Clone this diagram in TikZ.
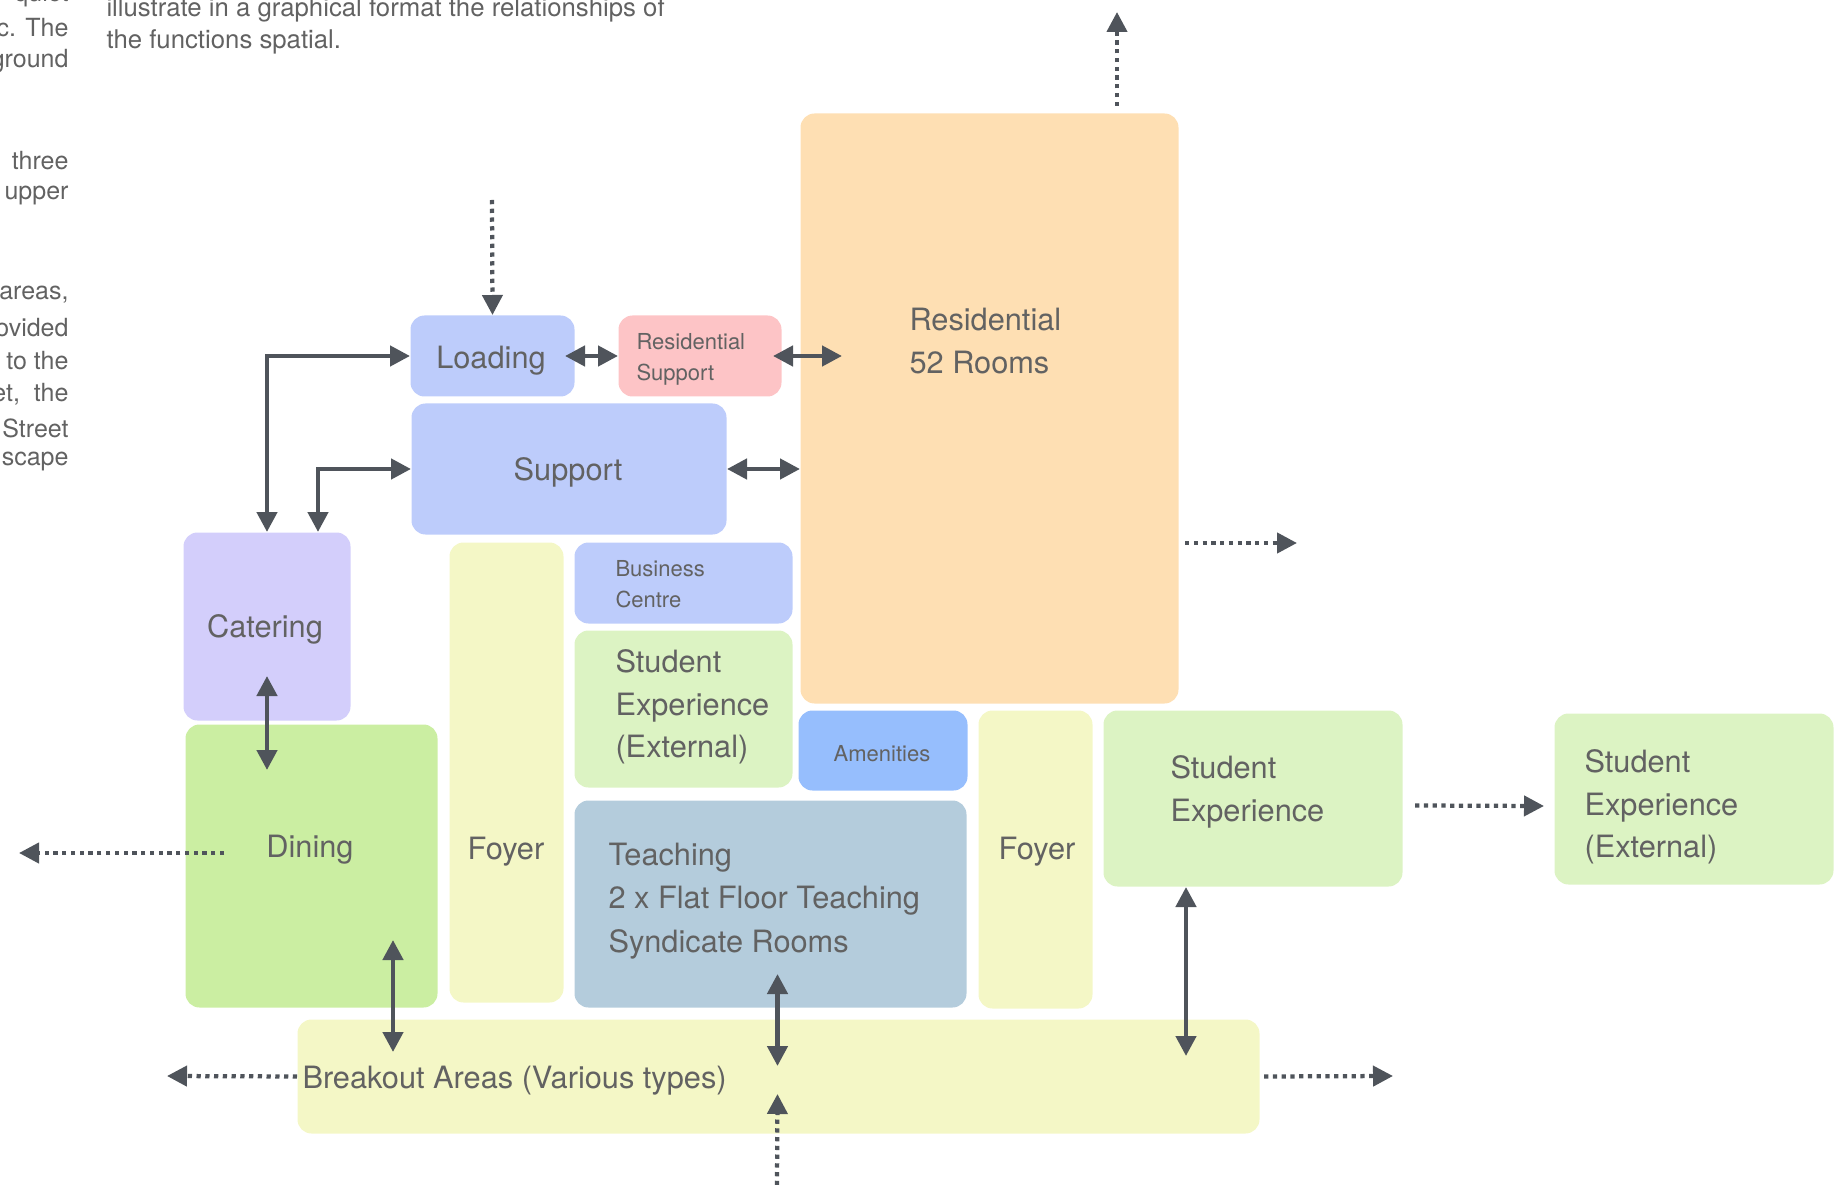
\documentclass[tikz,border=0pt]{standalone}
\usepackage{fontspec}
\setmainfont{TeX Gyre Heros}
\usetikzlibrary{arrows.meta,calc}
\definecolor{cblue}{HTML}{BDCCFB}
\definecolor{cpink}{HTML}{FDC4C6}
\definecolor{cpeach}{HTML}{FEDFB3}
\definecolor{clav}{HTML}{D3CEFB}
\definecolor{cdining}{HTML}{CBEEA2}
\definecolor{cyellow}{HTML}{F4F7C6}
\definecolor{cstud}{HTML}{DCF3C3}
\definecolor{camen}{HTML}{96BEFD}
\definecolor{cteach}{HTML}{B4CCDC}
\definecolor{carrow}{HTML}{4F545B}
\definecolor{ctext}{HTML}{626262}
\newcommand\roomrect[6]{\node[roombox, fill=#2, anchor=north west, minimum width={(#5-#3)*0.4pt}, minimum height={(#6-#4)*0.4pt}] (#1) at (#3,#4) {};}
\begin{document}
\begin{tikzpicture}[x=0.4pt,y=-0.4pt,
  roombox/.style={rounded corners=5.6pt, inner sep=0pt, draw=none},
  big/.style={text=ctext, inner sep=0pt, font=\fontsize{12.3pt}{17pt}\selectfont},
  small/.style={text=ctext, inner sep=0pt, font=\fontsize{8.8pt}{12.4pt}\selectfont},
  para/.style={text=ctext, inner sep=0pt, font=\fontsize{10.3pt}{13pt}\selectfont},
  lcol/.style={text=ctext, inner sep=0pt, font=\fontsize{10pt}{13pt}\selectfont},
  darr/.style={draw=carrow, line width=1.8pt, {Triangle[length=8pt,width=8pt]}-{Triangle[length=8pt,width=8pt]}},
  dotarr/.style={draw=carrow, line width=1.7pt, dash pattern=on 1.7pt off 1.8pt, -{Triangle[length=8pt,width=8pt]}}]
\useasboundingbox (0,0) rectangle (1847,1185);

% paragraph text fragments
\node[para, anchor=west] (p1) at (106,10) {illustrate in a graphical format the relationships of};
\node[para, anchor=west] (p2) at (106,42) {the functions spatial.};
\node[lcol, anchor=east] (l0) at (69,-5) {quiet};
\node[lcol, anchor=east] (l1) at (69,28) {ic. The};
\node[lcol, anchor=east] (l2) at (69,61) {ground};
\node[lcol, anchor=east] (l3) at (69,161) {three};
\node[lcol, anchor=east] (l4) at (69,195) {upper};
\node[lcol, anchor=east] (l5) at (69,295) {areas,};
\node[lcol, anchor=east] (l6) at (69,328) {ovided};
\node[lcol, anchor=east] (l7) at (69,361) {to the};
\node[lcol, anchor=east] (l8) at (69,394) {et,\ \ the};
\node[lcol, anchor=east] (l9) at (69,428) {Street};
\node[lcol, anchor=east] (l10) at (69,461) {scape};

% rooms
\roomrect{Loading}{cblue}{410}{315}{574}{396}
\roomrect{ResSup}{cpink}{618}{315}{781}{396}
\roomrect{Support}{cblue}{411}{403}{726}{534}
\roomrect{Res}{cpeach}{800}{113}{1178}{703}
\roomrect{Catering}{clav}{183}{532}{350}{720}
\roomrect{Dining}{cdining}{185}{724}{437}{1007}
\roomrect{FoyerL}{cyellow}{449}{542}{563}{1002}
\roomrect{Business}{cblue}{574}{542}{792}{623}
\roomrect{SEin}{cstud}{574}{630}{792}{787}
\roomrect{Amen}{camen}{798}{710}{967}{790}
\roomrect{Teach}{cteach}{574}{800}{966}{1007}
\roomrect{FoyerR}{cyellow}{978}{710}{1092}{1008}
\roomrect{SE}{cstud}{1103}{710}{1402}{886}
\roomrect{SEx}{cstud}{1554}{713}{1833}{884}
\roomrect{Break}{cyellow}{297}{1019}{1259}{1133}

% labels
\node[big] (tLoading) at (491,361) {Loading};
\node[small, anchor=west, align=left] (tResSup) at (636,359) {Residential\\Support};
\node[big] (tSupport) at (568,472) {Support};
\node[big, anchor=west, align=left] (tRes) at (909,341) {Residential\\52 Rooms};
\node[big] (tCatering) at (265,629) {Catering};
\node[big] (tDining) at (310,850) {Dining};
\node[big] (tFoyerL) at (506,852) {Foyer};
\node[small, anchor=west, align=left] (tBusiness) at (615,584) {Business\\Centre};
\node[big, anchor=west, align=left, font=\fontsize{12.3pt}{17pt}\selectfont] (tSEin) at (615,707) {Student\\Experience\\(External)};
\node[small] (tAmen) at (882,754) {Amenities};
\node[big, anchor=west, align=left, font=\fontsize{12.3pt}{17.4pt}\selectfont] (tTeach) at (608,901) {Teaching\\2 x Flat Floor Teaching\\Syndicate Rooms};
\node[big] (tFoyerR) at (1037,852) {Foyer};
\node[big, anchor=west, align=left] (tSE) at (1170,792) {Student\\Experience};
\node[big, anchor=west, align=left, font=\fontsize{12.3pt}{16.9pt}\selectfont] (tSEx) at (1584,807) {Student\\Experience\\(External)};
\node[big, anchor=west] (tBreak) at (302,1081) {Breakout Areas (Various types)};

% free ends
\coordinate (topLoad) at (492,200);
\coordinate (resUp) at (1117,12);
\coordinate (resUpS) at (1117,106);
\coordinate (resRS) at (1185,543);
\coordinate (resRE) at (1297,543);
\coordinate (dinS) at (224,853);
\coordinate (dinE) at (19,853);
\coordinate (brL) at (167,1076);
\coordinate (brR) at (1393,1076);
\coordinate (botS) at (777,1185);

% connectors
\draw[dotarr] (topLoad) -- (Loading.north);
\draw[darr] (Catering.north) |- (Loading.west);
\draw[darr] ($(Catering.north)+(51,0)$) |- (Support.west);
\draw[darr] ($(Loading.east)+(-10,0)$) -- (ResSup.west);
\draw[darr] ($(ResSup.east)+(-9,0)$) -- ($(ResSup.east -| Res.west)+(42,0)$);
\draw[darr] (Support.east) -- (Support.east -| Res.west);
\draw[dotarr] (resUpS) -- (resUp);
\draw[dotarr] (resRS) -- (resRE);
\draw[darr] ($(Catering.south)+(0,-45)$) -- ($(Catering.south)+(0,49)$);
\draw[dotarr] (dinS) -- (dinE);
\draw[darr] ($(Dining.south west)+(208,-68)$) -- ($(Dining.south west)+(208,44)$);
\draw[dotarr] (Break.west) -- (brL);
\draw[darr] ($(Teach.south)+(7,-34)$) -- ($(Teach.south)+(7,58)$);
\draw[dotarr] (botS) -- ($(Teach.south)+(7,86)$);
\draw[darr] ($(SE.south west)+(83,0)$) -- ($(SE.south west)+(83,169)$);
\draw[dotarr] ($(Break.east)+(4,0)$) -- (brR);
\draw[dotarr] ($(SE.east)+(12,7)$) -- ($(SEx.west)+(-10,7)$);
\end{tikzpicture}
\end{document}
